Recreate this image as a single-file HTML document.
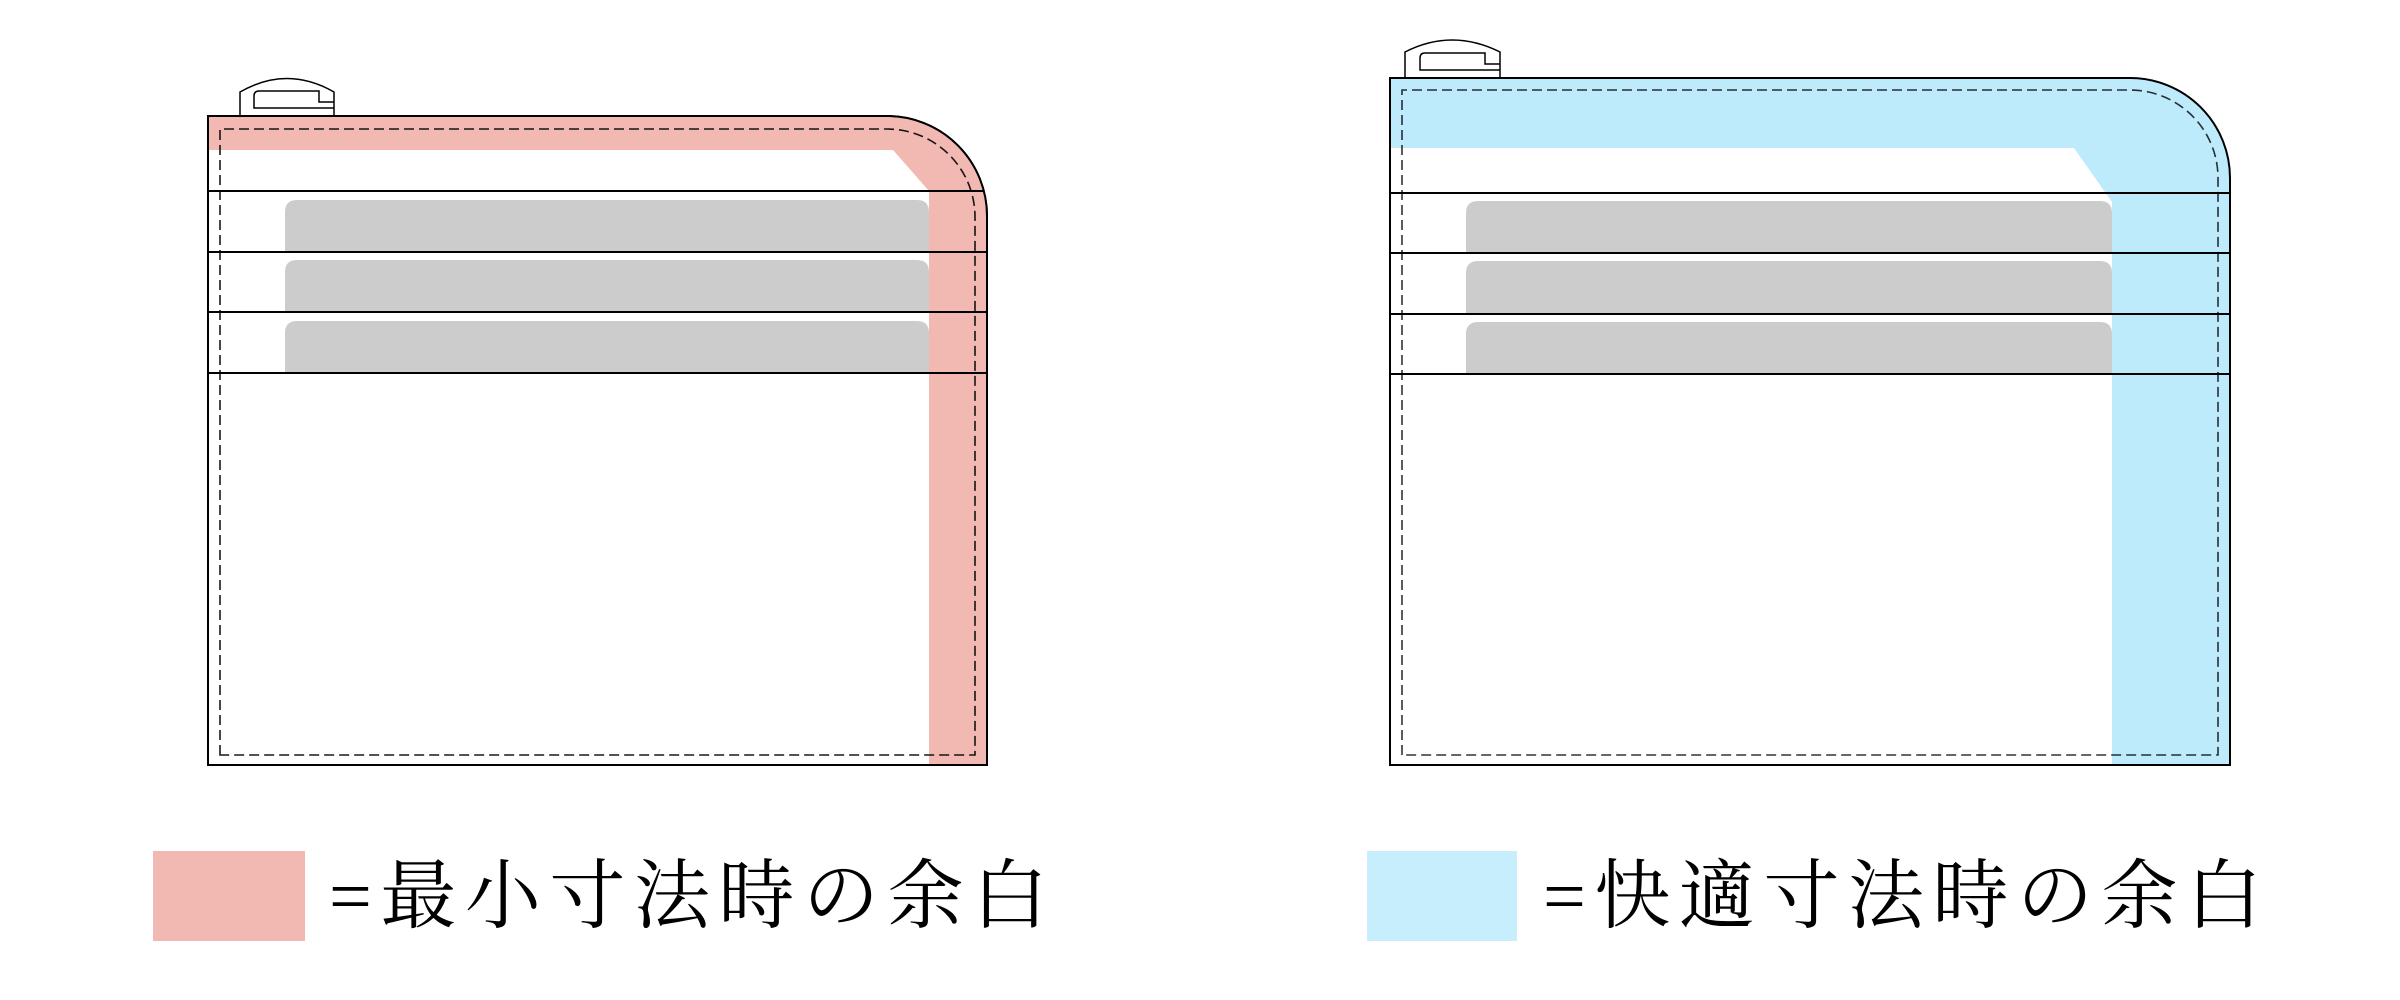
<!DOCTYPE html>
<html><head><meta charset="utf-8"><style>
html,body{margin:0;padding:0;background:#fff;width:2400px;height:1000px;overflow:hidden}
svg{display:block}
text{font-family:"Liberation Serif","Noto Serif CJK SC",serif;font-size:76px;fill:#000}
</style></head><body>
<svg width="2400" height="1000" viewBox="0 0 2400 1000" xmlns="http://www.w3.org/2000/svg">
<!-- LEFT WALLET -->
<path d="M240,116 V92 Q287,65 334,92 V116" fill="#fff" stroke="#000" stroke-width="1.5"/>
<path d="M334,108 H254 V96 Q254,91 259,91 H319 V102 H334" fill="none" stroke="#000" stroke-width="1.5"/>
<path d="M208,116 H887 A100,100 0 0 1 987,216 V765 H208 Z" fill="#fff" stroke="#000" stroke-width="2"/>
<g fill="#cccccc">
<path d="M285,373 V333 Q285,321 297,321 H917 Q929,321 929,333 V373 Z"/>
<path d="M285,312 V272 Q285,260 297,260 H917 Q929,260 929,272 V312 Z"/>
<path d="M285,252 V212 Q285,200 297,200 H917 Q929,200 929,212 V252 Z"/>
</g>
<path d="M208,116 H887 A100,100 0 0 1 987,216 V765 H929 V191 L893,150 H208 Z" fill="#f2b8b2"/>
<g stroke="#000" stroke-width="2">
<line x1="208" y1="191" x2="983" y2="191"/><line x1="208" y1="252" x2="987" y2="252"/>
<line x1="208" y1="312" x2="987" y2="312"/><line x1="208" y1="373" x2="987" y2="373"/>
</g>
<path d="M220,755 V129 H887 A88,88 0 0 1 975,217 V755 Z" fill="none" stroke="#000" stroke-width="1.6" stroke-dasharray="10,5" opacity="0.9"/>
<path d="M208,116 H887 A100,100 0 0 1 987,216 V765 H208 Z" fill="none" stroke="#000" stroke-width="2"/>

<!-- RIGHT WALLET -->
<path d="M1405,78 V52 Q1452,28 1500,52 V78" fill="#fff" stroke="#000" stroke-width="1.5"/>
<path d="M1500,70 H1420 V58 Q1420,53 1425,53 H1485 V64 H1500" fill="none" stroke="#000" stroke-width="1.5"/>
<path d="M1390,78 H2130 A100,100 0 0 1 2230,178 V765 H1390 Z" fill="#fff"/>
<g fill="#cccccc">
<path d="M1466,374 V334 Q1466,322 1478,322 H2100 Q2112,322 2112,334 V374 Z"/>
<path d="M1466,313 V273 Q1466,261 1478,261 H2100 Q2112,261 2112,273 V313 Z"/>
<path d="M1466,253 V213 Q1466,201 1478,201 H2100 Q2112,201 2112,213 V253 Z"/>
</g>
<path d="M1390,78 H2130 A100,100 0 0 1 2230,178 V765 H2112 V202 L2074,148 H1390 Z" fill="#bdebfb"/>
<g stroke="#000" stroke-width="2">
<line x1="1390" y1="193" x2="2230" y2="193"/><line x1="1390" y1="253" x2="2230" y2="253"/>
<line x1="1390" y1="314" x2="2230" y2="314"/><line x1="1390" y1="374" x2="2230" y2="374"/>
</g>
<path d="M1402,755 V90 H2130 A88,88 0 0 1 2218,178 V755 Z" fill="none" stroke="#000" stroke-width="1.6" stroke-dasharray="10,5" opacity="0.8"/>
<path d="M1390,78 H2130 A100,100 0 0 1 2230,178 V765 H1390 Z" fill="none" stroke="#000" stroke-width="2"/>

<!-- LEGEND -->
<rect x="153" y="851" width="152" height="90" fill="#f2b8b2"/>
<text x="329" y="922" textLength="719" lengthAdjust="spacing">=最小寸法時の余白</text>
<rect x="1367" y="851" width="150" height="90" fill="#c6eefc"/>
<text x="1543" y="922" textLength="719" lengthAdjust="spacing">=快適寸法時の余白</text>
</svg>
</body></html>
